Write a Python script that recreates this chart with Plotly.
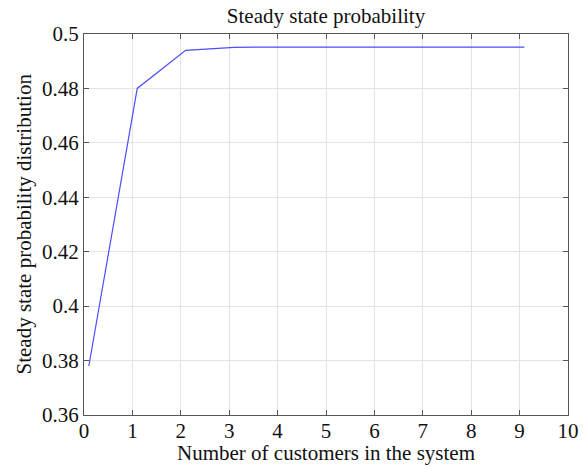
import plotly.graph_objects as go

customers = [0.1, 1.1, 2.1, 3.1, 4.1, 5.1, 6.1, 7.1, 8.1, 9.1]
probability = [0.378, 0.480, 0.494, 0.4951, 0.4952, 0.4952, 0.4952, 0.4952, 0.4952, 0.4952]
x_ticks = list(range(0, 11))
y_ticks = [0.36, 0.38, 0.40, 0.42, 0.44, 0.46, 0.48, 0.50]
y_labels = ["0.36", "0.38", "0.4", "0.42", "0.44", "0.46", "0.48", "0.5"]

fig = go.Figure()
fig.add_trace(go.Scatter(x=customers, y=probability, mode="lines",
                         line=dict(color="#4d4dff", width=1.2), showlegend=False))

font = dict(family="Liberation Serif", color="#111111")
axis_common = dict(showline=True, linecolor="#555555", linewidth=1, mirror="ticks",
                   ticks="inside", ticklen=5, tickcolor="#555555",
                   showgrid=True, gridcolor="#e3e3e3", gridwidth=1, zeroline=False,
                   automargin=False,
                   tickfont=dict(size=21, **font))
L, R, T, B = 84, 15, 34, 52
pw, ph = 583 - L - R, 467 - T - B
fig.update_layout(
    width=583, height=467,
    margin=dict(l=L, r=R, t=T, b=B),
    paper_bgcolor="white", plot_bgcolor="white",
    font=font,
    title=dict(text="Steady state probability", x=(L + 583 - R) / 2 / 583, xanchor="center",
               y=1 - 16/467, yanchor="middle", font=dict(size=21, **font)),
    xaxis=dict(range=[0, 10], tickvals=x_ticks, ticklabelstandoff=-3, **axis_common),
    yaxis=dict(range=[0.36, 0.5], tickvals=y_ticks, ticktext=y_labels, **axis_common),
    annotations=[
        dict(text="Number of customers in the system", xref="paper", yref="paper",
             x=0.5, y=-(453 - (467 - B)) / ph, xanchor="center", yanchor="middle",
             showarrow=False, font=dict(size=21, **font)),
        dict(text="Steady state probability distribution", xref="paper", yref="paper",
             x=-(L - 23) / pw, y=0.5, xanchor="center", yanchor="middle", textangle=-90,
             showarrow=False, font=dict(size=21, **font)),
    ],
)
fig.write_html("out.html")
